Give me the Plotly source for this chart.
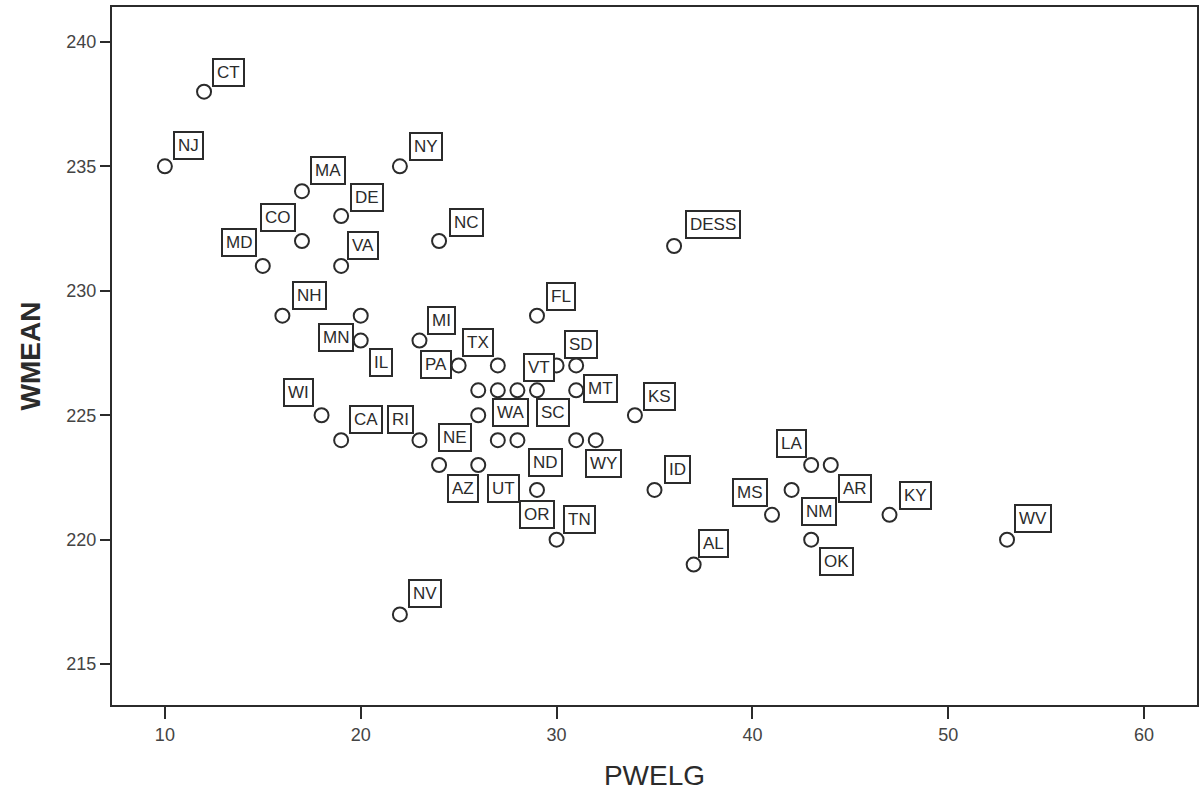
import plotly.graph_objects as go

# ---- data ----
states = ["CT", "NJ", "NY", "MA", "DE", "CO", "NC", "DESS", "MD", "VA",
          "NH", "MN", "IL", "MI", "FL", "PA", "TX", "VT", "SD", "",
          "WA", "", "SC", "MT", "NE", "WI", "KS", "CA", "RI", "",
          "ND", "WY", "", "AZ", "UT", "OR", "ID", "LA", "AR", "NM",
          "MS", "KY", "TN", "OK", "WV", "AL", "NV"]
pwelg = [12, 10, 22, 17, 19, 17, 24, 36, 15, 19,
         16, 20, 20, 23, 29, 25, 27, 30, 31, 26,
         27, 28, 29, 31, 26, 18, 34, 19, 23, 27,
         28, 31, 32, 24, 26, 29, 35, 43, 44, 42,
         41, 47, 30, 43, 53, 37, 22]
wmean = [238, 235, 235, 234, 233, 232, 232, 231.8, 231, 231,
         229, 229, 228, 228, 229, 227, 227, 227, 227, 226,
         226, 226, 226, 226, 225, 225, 225, 224, 224, 224,
         224, 224, 224, 223, 223, 222, 222, 223, 223, 222,
         221, 221, 220, 220, 220, 219, 217]

# ---- label placement (pixel offsets of label box from its point) ----
label_dx = [24, 24, 26, 26, 26, -24, 27, 39, -24, 22,
            27, -25, 20, 22, 24, -23, -20, -18, 5, 0,
            13, 0, 16, 24, -23, -23, 25, 25, -19, 0,
            28, 27, 0, 24, 25, 0, 23, -20, 24, 27,
            -22, 26, 23, 25, 26, 20, 25]
label_dy = [-19, -21, -20, -21, -19, -23, -18, -21, -23, -20,
            -20, 22, 22, -20, -19, -1, -23, 2, -21, 0,
            22, 0, 22, -2, 22, -23, -19, -21, -21, 0,
            22, 23, 0, 23, 23, 25, -20, -22, 23, 22,
            -22, -19, -20, 22, -21, -21, -21]

ink = "#2b2b2b"
font_family = "Liberation Sans, Arial, sans-serif"

fig = go.Figure()
fig.add_trace(go.Scatter(
    x=pwelg, y=wmean, mode="markers",
    marker=dict(symbol="circle-open", size=14, color=ink,
                line=dict(width=2, color=ink)),
    hoverinfo="skip", showlegend=False,
))

annotations = []
for s, xv, yv, dx, dy in zip(states, pwelg, wmean, label_dx, label_dy):
    if not s:
        continue
    annotations.append(dict(
        x=xv, y=yv, xref="x", yref="y", text=s, showarrow=False,
        xshift=dx, yshift=-dy,
        font=dict(family=font_family, size=17, color=ink),
        bgcolor="white", bordercolor=ink, borderwidth=2, borderpad=3,
    ))

fig.update_layout(
    width=1204, height=796,
    margin=dict(l=112, r=6, t=5, b=91),
    paper_bgcolor="white", plot_bgcolor="white",
    font=dict(family=font_family, color=ink),
    annotations=annotations,
    xaxis=dict(
        range=[7.3, 62.7], tickvals=[10, 20, 30, 40, 50, 60],
        showgrid=False, zeroline=False,
        showline=True, linecolor=ink, linewidth=2, mirror=True,
        ticks="outside", ticklen=12, tickwidth=2, tickcolor=ink,
        tickfont=dict(size=18, color="#444"),
        title=dict(text="PWELG", font=dict(size=28, color=ink), standoff=22),
    ),
    yaxis=dict(
        range=[213.36, 241.4], tickvals=[215, 220, 225, 230, 235, 240],
        showgrid=False, zeroline=False,
        showline=True, linecolor=ink, linewidth=2, mirror=True,
        ticks="outside", ticklen=10, tickwidth=2, tickcolor=ink,
        tickfont=dict(size=18, color="#444"),
        title=dict(text="<b>WMEAN</b>", font=dict(size=28, color=ink), standoff=18),
    ),
)

fig.write_html("out.html")
